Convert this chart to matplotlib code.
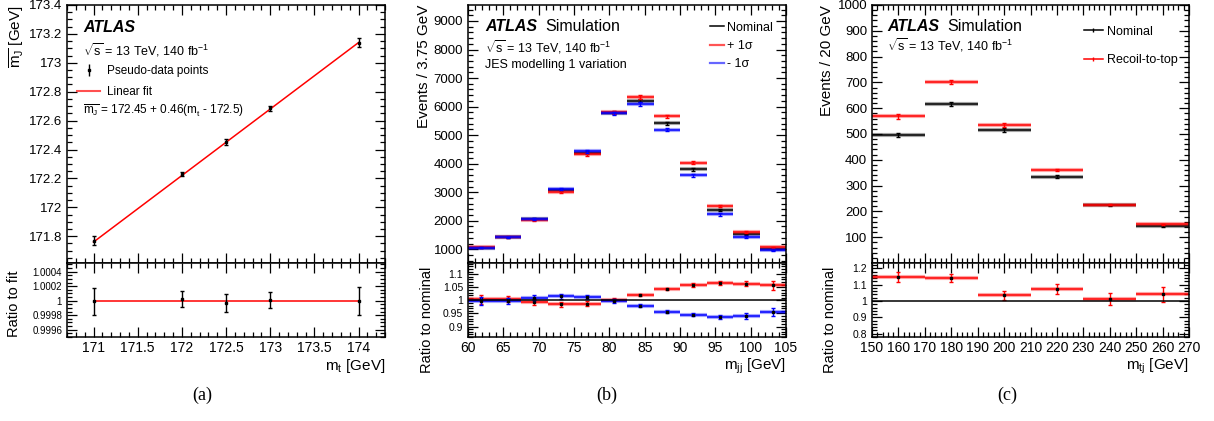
import matplotlib
matplotlib.use("Agg")
import matplotlib.pyplot as plt
from matplotlib.ticker import MultipleLocator, FuncFormatter
from matplotlib.lines import Line2D
import numpy as np

plt.rcParams["font.family"] = ["Liberation Sans", "DejaVu Sans"]
plt.rcParams["mathtext.fontset"] = "custom"
plt.rcParams["mathtext.rm"] = "Liberation Sans"
plt.rcParams["mathtext.it"] = "Liberation Sans"
plt.rcParams["mathtext.bf"] = "Liberation Sans:bold"

# (a) calibration of mean jet mass vs top mass
mt_points = [171, 172, 172.5, 173, 174]
mj_mean = [171.77, 172.23, 172.45, 172.685, 173.14]
mj_err = [0.03, 0.015, 0.02, 0.015, 0.03]
fit_ratio = [0.99999, 1.00002, 0.99997, 1.00001, 1.0]
fit_ratio_err = [0.00018, 0.00011, 0.00012, 0.00011, 0.00019]
fit_intercept = 172.45
fit_slope = 0.46
fit_ref = 172.5

# (b) m_jj with JES modelling 1 variation
mjj_edges = [60, 63.75, 67.5, 71.25, 75, 78.75, 82.5, 86.25, 90, 93.75, 97.5, 101.25, 105]
mjj_nominal = [1060, 1420, 2050, 3070, 4380, 5780, 6210, 5420, 3810, 2370, 1520, 1010]
mjj_up = [1064, 1426, 2038, 3024, 4327, 5797, 6340, 5658, 4035, 2526, 1617, 1068]
mjj_down = [1058, 1417, 2070, 3119, 4433, 5768, 6086, 5187, 3600, 2223, 1429, 964]
mjj_err = [20, 25, 30, 40, 50, 55, 60, 55, 50, 40, 30, 25]
mjj_ratio_err = [0.016, 0.012, 0.010, 0.009, 0.008, 0.006, 0.005, 0.005, 0.006, 0.008, 0.010, 0.016]

# (c) m_tj with recoil-to-top variation
mtj_edges = [150, 170, 190, 210, 230, 250, 270]
mtj_nominal = [496, 616, 516, 335, 223, 144]
mtj_recoil = [568, 701, 534, 360, 226, 150]
mtj_err = [8, 8, 7, 5, 3, 3]
mtj_ratio_err = [0.03, 0.025, 0.027, 0.03, 0.035, 0.045]

W, H = 1214, 421
fig = plt.figure(figsize=(W / 100, H / 100), dpi=100)


def make_axes(x0, x1):
    top = fig.add_axes([x0 / W, 1 - 263 / H, (x1 - x0) / W, 258 / H])
    bot = fig.add_axes([x0 / W, 1 - 337 / H, (x1 - x0) / W, 74 / H], sharex=top)
    for ax in (top, bot):
        ax.tick_params(which="both", direction="in", top=True, right=True)
        ax.tick_params(which="major", length=7, width=0.9)
        ax.tick_params(which="minor", length=3.5, width=0.9)
        for s in ax.spines.values():
            s.set_linewidth(1.1)
    top.tick_params(labelbottom=False, labelsize=9.5)
    bot.tick_params(axis="x", labelsize=10, pad=3)
    bot.tick_params(axis="y", labelsize=7.5)
    fmt = FuncFormatter(lambda v, p: "%g" % round(v, 6))
    top.yaxis.set_major_formatter(fmt)
    bot.yaxis.set_major_formatter(fmt)
    bot.xaxis.set_major_formatter(fmt)
    return top, bot


def draw_hist(ax, edges, values, errs, color, mark=False):
    edges = np.array(edges)
    centers = 0.5 * (edges[:-1] + edges[1:])
    ax.hlines(values, edges[:-1], edges[1:], color=color, lw=3.0, alpha=0.35)
    ax.hlines(values, edges[:-1], edges[1:], color=color, lw=1.1)
    ax.errorbar(centers, values, yerr=errs, fmt="none", ecolor=color,
                elinewidth=1.0, capsize=1.5)
    if mark:
        ax.plot(centers, values, "s", color="black", ms=1.8)


def atlas_label(ax, x, y, extra=None, dx=0.19):
    ax.text(x, y, "ATLAS", transform=ax.transAxes, fontsize=11.5,
            fontweight="bold", fontstyle="italic", va="center")
    if extra:
        ax.text(x + dx, y, extra, transform=ax.transAxes, fontsize=11.5, va="center")


lumi = r"$\sqrt{\mathrm{s}}$ = 13 TeV, 140 fb$^{-1}$"

# ---------------- (a)
ax_t, ax_r = make_axes(67, 385)
mt = np.array(mt_points)
fit_x = np.array([mt_points[0], mt_points[-1]])
ax_t.plot(fit_x, fit_intercept + fit_slope * (fit_x - fit_ref), color="red", lw=1.1)
ax_t.errorbar(mt, mj_mean, yerr=mj_err, fmt="s", color="black", ms=2,
              elinewidth=1.0, capsize=1.5)
ax_t.set_ylim(171.615, 173.4)
ax_t.set_xlim(170.7, 174.3)
ax_t.yaxis.set_major_locator(MultipleLocator(0.2))
ax_t.yaxis.set_minor_locator(MultipleLocator(0.05))
ax_t.xaxis.set_major_locator(MultipleLocator(0.5))
ax_t.xaxis.set_minor_locator(MultipleLocator(0.1))
ax_t.set_ylabel(r"$\overline{\mathrm{m}_{\mathrm{J}}}$ [GeV]", fontsize=11, loc="top")
ax_t.yaxis.set_label_coords(-0.13, 1.0)
atlas_label(ax_t, 0.05, 0.911)
ax_t.text(0.05, 0.826, lumi, transform=ax_t.transAxes, fontsize=9, va="center")
h_pts = ax_t.errorbar([], [], yerr=[], fmt="s", color="black", ms=2, elinewidth=1.0, capsize=1.5)
h_fit = Line2D([], [], color="#ff5050", lw=1.5)
ax_t.legend([h_pts, h_fit], ["Pseudo-data points", "Linear fit"], loc="upper left",
            bbox_to_anchor=(0.031, 0.767), frameon=False, fontsize=8.5, borderpad=0,
            borderaxespad=0, handlelength=2.0, handletextpad=0.55, labelspacing=0.75)
ax_t.text(0.05, 0.589, r"$\overline{\mathrm{m}_{\mathrm{J}}}$ = 172.45 + 0.46(m$_{\mathrm{t}}$ - 172.5)",
          transform=ax_t.transAxes, fontsize=8.5, va="center")

ax_r.plot(fit_x, [1, 1], color="red", lw=1.1)
ax_r.errorbar(mt, fit_ratio, yerr=fit_ratio_err, fmt="s", color="black", ms=2,
              elinewidth=1.0, capsize=1.5)
ax_r.set_ylim(0.99950, 1.00052)
ax_r.yaxis.set_major_locator(MultipleLocator(0.0002))
ax_r.yaxis.set_minor_locator(MultipleLocator(0.00005))
ax_r.tick_params(axis="y", labelsize=7)
ax_r.set_ylabel("Ratio to fit", fontsize=10.5, loc="top")
ax_r.yaxis.set_label_coords(-0.145, 0.9)
ax_r.set_xlabel(r"m$_{\mathrm{t}}$ [GeV]", fontsize=11, loc="right")
ax_r.xaxis.set_label_coords(1.0, -0.27)

# ---------------- (b)
ax_t, ax_r = make_axes(468, 786)
draw_hist(ax_t, mjj_edges, mjj_nominal, mjj_err, "black")
draw_hist(ax_t, mjj_edges, mjj_up, mjj_err, "red")
draw_hist(ax_t, mjj_edges, mjj_down, mjj_err, "blue")
ax_t.set_xlim(60, 105)
ax_t.set_ylim(520, 9560)
ax_t.yaxis.set_major_locator(MultipleLocator(1000))
ax_t.yaxis.set_minor_locator(MultipleLocator(200))
ax_t.xaxis.set_major_locator(MultipleLocator(5))
ax_t.xaxis.set_minor_locator(MultipleLocator(1))
ax_t.set_ylabel("Events / 3.75 GeV", fontsize=11, loc="top")
ax_t.yaxis.set_label_coords(-0.116, 1.0)
atlas_label(ax_t, 0.053, 0.915, "Simulation", dx=0.189)
ax_t.text(0.053, 0.837, lumi, transform=ax_t.transAxes, fontsize=9, va="center")
ax_t.text(0.053, 0.767, "JES modelling 1 variation", transform=ax_t.transAxes,
          fontsize=9, va="center")
handles = [Line2D([], [], color="black", lw=1.1),
           Line2D([], [], color="#ff5555", lw=1.6),
           Line2D([], [], color="#6666ff", lw=1.6)]
ax_t.legend(handles, ["Nominal", "+ 1σ", "- 1σ"], loc="upper left",
            bbox_to_anchor=(0.761, 0.935), frameon=False, fontsize=9, borderpad=0,
            borderaxespad=0, handlelength=1.1, handletextpad=0.3, labelspacing=0.5)

nom = np.array(mjj_nominal, dtype=float)
draw_hist(ax_r, mjj_edges, np.array(mjj_up) / nom, mjj_ratio_err, "red", mark=True)
draw_hist(ax_r, mjj_edges, np.array(mjj_down) / nom, mjj_ratio_err, "blue", mark=True)
ax_r.axhline(1.0, color="black", lw=1.1)
ax_r.set_ylim(0.86, 1.143)
ax_r.yaxis.set_major_locator(MultipleLocator(0.05))
ax_r.yaxis.set_minor_locator(MultipleLocator(0.01))
ax_r.set_ylabel("Ratio to nominal", fontsize=10.5, loc="top")
ax_r.yaxis.set_label_coords(-0.107, 0.95)
ax_r.set_xlabel(r"m$_{\mathrm{jj}}$ [GeV]", fontsize=11, loc="right")
ax_r.xaxis.set_label_coords(1.0, -0.27)

# ---------------- (c)
ax_t, ax_r = make_axes(872, 1189)
draw_hist(ax_t, mtj_edges, mtj_nominal, mtj_err, "black")
draw_hist(ax_t, mtj_edges, mtj_recoil, mtj_err, "red")
ax_t.set_xlim(150, 270)
ax_t.set_ylim(0, 1000)
ax_t.set_yticks(np.arange(100, 1001, 100))
ax_t.yaxis.set_minor_locator(MultipleLocator(20))
ax_t.xaxis.set_major_locator(MultipleLocator(10))
ax_t.xaxis.set_minor_locator(MultipleLocator(2))
ax_t.set_ylabel("Events / 20 GeV", fontsize=11, loc="top")
ax_t.yaxis.set_label_coords(-0.12, 1.0)
atlas_label(ax_t, 0.047, 0.915, "Simulation", dx=0.189)
ax_t.text(0.047, 0.845, lumi, transform=ax_t.transAxes, fontsize=9, va="center")
handles = [Line2D([], [], color="black", lw=1.1, marker="|", ms=3),
           Line2D([], [], color="red", lw=1.1, marker="|", ms=3)]
ax_t.legend(handles, ["Nominal", "Recoil-to-top"], loc="upper left",
            bbox_to_anchor=(0.669, 0.92), frameon=False, fontsize=9, borderpad=0,
            borderaxespad=0, handlelength=1.5, handletextpad=0.3, labelspacing=1.3)

nom = np.array(mtj_nominal, dtype=float)
draw_hist(ax_r, mtj_edges, np.array(mtj_recoil) / nom, mtj_ratio_err, "red", mark=True)
ax_r.axhline(1.0, color="black", lw=1.1)
ax_r.set_ylim(0.78, 1.232)
ax_r.yaxis.set_major_locator(MultipleLocator(0.1))
ax_r.yaxis.set_minor_locator(MultipleLocator(0.02))
ax_r.set_ylabel("Ratio to nominal", fontsize=10.5, loc="top")
ax_r.yaxis.set_label_coords(-0.11, 0.95)
ax_r.set_xlabel(r"m$_{\mathrm{tj}}$ [GeV]", fontsize=11, loc="right")
ax_r.xaxis.set_label_coords(1.0, -0.27)

# sub-figure captions
for xc, cap in [(0.167, "(a)"), (0.5, "(b)"), (0.8295, "(c)")]:
    fig.text(xc, 0.062, cap, ha="center", va="center", fontsize=13,
             family=["Liberation Serif", "DejaVu Serif"])

fig.savefig("out.png", dpi=100)
plt.close()
